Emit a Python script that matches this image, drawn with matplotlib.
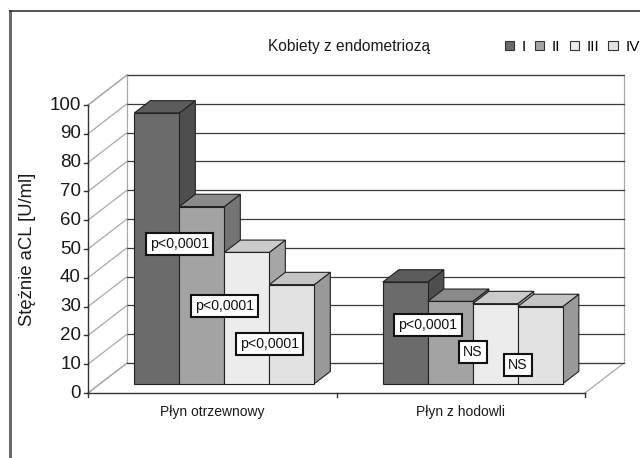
import matplotlib
matplotlib.use("Agg")
import matplotlib.pyplot as plt
from matplotlib.patches import Polygon, Patch

plt.rcParams['font.family'] = ['Liberation Sans', 'DejaVu Sans']

# ---- data ----
categories = ["Płyn otrzewnowy", "Płyn z hodowli"]
series_names = ["I", "II", "III", "IV"]
values_I = [94.0, 35.3]
values_II = [61.5, 28.6]
values_III = [45.6, 27.8]
values_IV = [34.4, 26.8]
y_ticks = [0, 10, 20, 30, 40, 50, 60, 70, 80, 90, 100]
title = "Kobiety z endometriozą"
y_label = "Stężnie aCL [U/ml]"
# annotations: (category index, boundary after bar index, height, text)
ann_cat = [0, 0, 0, 1, 1, 1]
ann_bar = [0, 1, 2, 0, 1, 2]
ann_val = [51.7, 30.2, 17.0, 23.6, 14.2, 9.7]
ann_text = ["p<0,0001", "p<0,0001", "p<0,0001", "p<0,0001", "NS", "NS"]

series = [values_I, values_II, values_III, values_IV]
front_cols = ["#6b6b6b", "#a3a3a3", "#ececec", "#e2e2e2"]
top_cols = ["#5c5c5c", "#8a8a8a", "#cbcbcb", "#c4c4c4"]
side_cols = ["#4e4e4e", "#747474", "#a6a6a6", "#999999"]

# ---- figure & scales ----
W, H = 640, 458
fig = plt.figure(figsize=(W / 100, H / 100), dpi=100)
ax = fig.add_axes([0, 0, 1, 1])
PXU = 248.5   # px per category unit
PYU = 2.88    # px per value unit
X0, Y0 = 88, 393
ax.set_xlim(-X0 / PXU, (W - X0) / PXU)
ax.set_ylim(-(H - Y0) / PYU, Y0 / PYU)
ax.axis("off")

DX = 39 / PXU
DY = 30 / PYU
f0 = 0.31      # bar front depth fraction
fd = 0.41      # bar depth fraction
ncat = len(categories)
bw = 45 / PXU
wall_c = "#a8a8a8"
grid_c = "#3a3a3a"

# back wall
ax.add_patch(Polygon([(DX, DY), (ncat + DX, DY), (ncat + DX, 100 + DY), (DX, 100 + DY)],
                     closed=True, facecolor="white", edgecolor=wall_c, lw=0.9, zorder=1))
# left wall outline
ax.plot([0, DX], [0, DY], color=wall_c, lw=0.9, zorder=1)
ax.plot([0, DX], [100, 100 + DY], color=wall_c, lw=0.9, zorder=1)
# floor right edge
ax.plot([ncat, ncat + DX], [0, DY], color=wall_c, lw=0.9, zorder=1)
# gridlines
for t in y_ticks:
    if t > 0:
        ax.plot([DX, ncat + DX], [t + DY, t + DY], color=grid_c, lw=0.9, zorder=2)
    ax.plot([0, DX], [t, t + DY], color=wall_c, lw=0.9, zorder=2)
ax.plot([DX, ncat + DX], [DY, DY], color=grid_c, lw=0.9, zorder=2)

# axes lines
ax.plot([0, 0], [0, 100], color="#333333", lw=1.0, zorder=3)
ax.plot([0, ncat], [0, 0], color="#333333", lw=1.0, zorder=3)
for t in y_ticks:
    ax.plot([-4 / PXU, 0], [t, t], color="#333333", lw=1.0, zorder=3)
    ax.text(-7 / PXU, t, str(t), ha="right", va="center", fontsize=13.5, color="#1a1a1a")
for c in range(ncat + 1):
    ax.plot([c, c], [0, -4 / PYU], color="#333333", lw=1.0, zorder=3)
for c, name in enumerate(categories):
    ax.text(c + 0.5, -19 / PYU, name, ha="center", va="center", fontsize=10, color="#1a1a1a")

ax.text(-60 / PXU, 50, y_label, rotation=90, ha="center", va="center", fontsize=13.3, color="#1a1a1a")

# bars
z = 5
for c in range(ncat):
    for j, vals in enumerate(series):
        v = vals[c]
        x0 = c + 0.5 - 2 * bw + j * bw + f0 * DX
        y0 = f0 * DY
        ddx, ddy = fd * DX, fd * DY
        front = [(x0, y0), (x0 + bw, y0), (x0 + bw, y0 + v), (x0, y0 + v)]
        top = [(x0, y0 + v), (x0 + bw, y0 + v), (x0 + bw + ddx, y0 + v + ddy), (x0 + ddx, y0 + v + ddy)]
        side = [(x0 + bw, y0), (x0 + bw + ddx, y0 + ddy), (x0 + bw + ddx, y0 + v + ddy), (x0 + bw, y0 + v)]
        ax.add_patch(Polygon(side, closed=True, facecolor=side_cols[j], edgecolor="#222222", lw=0.8, zorder=z))
        ax.add_patch(Polygon(top, closed=True, facecolor=top_cols[j], edgecolor="#222222", lw=0.8, zorder=z))
        ax.add_patch(Polygon(front, closed=True, facecolor=front_cols[j], edgecolor="#222222", lw=0.8, zorder=z))
        z += 1

# annotations
for c, j, v, t in zip(ann_cat, ann_bar, ann_val, ann_text):
    xb = c + 0.5 - 2 * bw + (j + 1) * bw + f0 * DX
    ax.text(xb, v, t, ha="center", va="center", fontsize=10.2, color="#111111", zorder=50,
            bbox=dict(boxstyle="square,pad=0.3", facecolor="white", edgecolor="#111111", lw=1.5))

# title & legend
fig.text(349 / W, 1 - 47 / H, title, ha="center", va="center", fontsize=11.2, color="#1a1a1a")
handles = [Patch(facecolor=front_cols[i], edgecolor="#333333", lw=0.8, label=series_names[i]) for i in range(4)]
fig.legend(handles=handles, loc="center left", bbox_to_anchor=(505 / W, 1 - 47 / H), ncol=4, frameon=False,
           fontsize=11, handlelength=0.6, handleheight=0.6, handletextpad=0.5, columnspacing=0.6,
           borderaxespad=0, borderpad=0)

# outer frame (left and top lines)
fig.add_artist(plt.Line2D([10 / W, 10 / W], [0, 1 - 11 / H], color="#6a6a6a", lw=2.2))
fig.add_artist(plt.Line2D([10 / W, 1], [1 - 11 / H, 1 - 11 / H], color="#333333", lw=1.2))

fig.savefig("out.png", dpi=100)
